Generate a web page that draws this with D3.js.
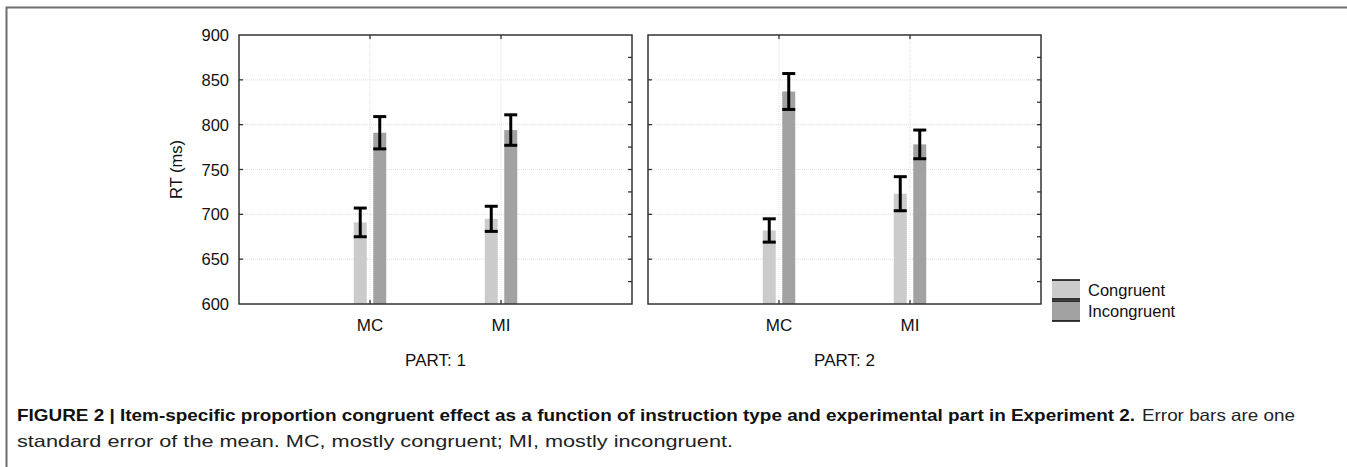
<!DOCTYPE html>
<html>
<head>
<meta charset="utf-8">
<script src="https://cdn.jsdelivr.net/npm/d3@7"></script>
<style>
    body { margin: 0; background: #fff; }
    svg { font-family: "Liberation Sans", Arial, sans-serif; }
</style>
</head>
<body>
<div id="chart"></div>
<script>
// data
const parts = ["PART: 1", "PART: 2"];
const conditions = ["MC", "MI"];
const series = ["Congruent", "Incongruent"];
const yTicks = [600, 650, 700, 750, 800, 850, 900];

// mean RT, [part][condition] per series
const congruentMeans = [[691, 695], [682, 723]];
const incongruentMeans = [[791, 794], [837, 778]];
// standard errors
const congruentSE = [[16, 14], [13, 19]];
const incongruentSE = [[18, 17], [20, 16]];

const colors = { Congruent: "#cbcbcb", Incongruent: "#a2a2a2" };

const width = 1347, height = 467;

const svg = d3.select("#chart").append("svg")
    .attr("width", width)
    .attr("height", height);

// outer figure frame (top + left)
svg.append("path")
    .attr("d", `M6.5,${height} V7.5 H${width}`)
    .attr("fill", "none")
    .attr("stroke", "#6e6e6e")
    .attr("stroke-width", 2);

const panelTop = 35, panelBottom = 304;
const panelW = 393;
const panelLefts = [239, 648];

const y = d3.scaleLinear().domain([600, 900]).range([panelBottom, panelTop]);
const x = d3.scalePoint().domain(conditions).range([0, panelW]).padding(1);
const xs = d3.scaleBand().domain(series).range([-16.25, 16.25]).paddingInner(1 / 3);

parts.forEach((part, pi) => {
    const g = svg.append("g").attr("transform", `translate(${panelLefts[pi]},0)`);

    // dotted grid
    g.selectAll(".hgrid")
        .data(yTicks.slice(1, -1))
        .enter().append("line")
        .attr("x1", 0).attr("x2", panelW)
        .attr("y1", d => y(d)).attr("y2", d => y(d))
        .attr("stroke", "#dedede")
        .attr("stroke-dasharray", "1,1");
    g.selectAll(".vgrid")
        .data(conditions)
        .enter().append("line")
        .attr("x1", d => x(d)).attr("x2", d => x(d))
        .attr("y1", panelTop).attr("y2", panelBottom)
        .attr("stroke", "#dedede")
        .attr("stroke-dasharray", "1,1");

    // bars
    const rows = [];
    conditions.forEach((c, ci) => {
        rows.push({ c, s: "Congruent", v: congruentMeans[pi][ci], se: congruentSE[pi][ci] });
        rows.push({ c, s: "Incongruent", v: incongruentMeans[pi][ci], se: incongruentSE[pi][ci] });
    });

    g.selectAll("rect.bar")
        .data(rows)
        .enter().append("rect")
        .attr("class", "bar")
        .attr("x", d => x(d.c) + xs(d.s))
        .attr("width", xs.bandwidth())
        .attr("y", d => y(d.v))
        .attr("height", d => y(600) - y(d.v))
        .attr("fill", d => colors[d.s]);

    // error bars
    const eb = g.selectAll("g.err")
        .data(rows)
        .enter().append("g")
        .attr("class", "err")
        .attr("stroke", "#000")
        .attr("stroke-width", 3);
    eb.append("line")
        .attr("x1", d => x(d.c) + xs(d.s) + xs.bandwidth() / 2)
        .attr("x2", d => x(d.c) + xs(d.s) + xs.bandwidth() / 2)
        .attr("y1", d => y(d.v + d.se))
        .attr("y2", d => y(d.v - d.se));
    eb.selectAll("line.cap")
        .data(d => [d.v + d.se, d.v - d.se].map(v => ({ ...d, cv: v })))
        .enter().append("line")
        .attr("class", "cap")
        .attr("x1", d => x(d.c) + xs(d.s))
        .attr("x2", d => x(d.c) + xs(d.s) + xs.bandwidth())
        .attr("y1", d => y(d.cv))
        .attr("y2", d => y(d.cv));

    // inward ticks
    const ticks = g.append("g").attr("stroke", "#333").attr("stroke-width", 1.3);
    ticks.selectAll(".lt")
        .data(yTicks.slice(1, -1))
        .enter().append("line")
        .attr("x1", 0).attr("x2", 4)
        .attr("y1", d => y(d)).attr("y2", d => y(d));
    ticks.selectAll(".rt")
        .data(d3.range(625, 900, 25))
        .enter().append("line")
        .attr("x1", panelW - 4).attr("x2", panelW)
        .attr("y1", d => y(d)).attr("y2", d => y(d));
    ticks.selectAll(".tt")
        .data(conditions)
        .enter().append("line")
        .attr("x1", d => x(d)).attr("x2", d => x(d))
        .attr("y1", panelTop).attr("y2", panelTop + 4);
    ticks.selectAll(".bt")
        .data(conditions)
        .enter().append("line")
        .attr("x1", d => x(d)).attr("x2", d => x(d))
        .attr("y1", panelBottom - 4).attr("y2", panelBottom);

    // panel frame
    g.append("rect")
        .attr("x", 0).attr("y", panelTop)
        .attr("width", panelW).attr("height", panelBottom - panelTop)
        .attr("fill", "none")
        .attr("stroke", "#333")
        .attr("stroke-width", 1.5);

    // category labels
    g.selectAll("text.cat")
        .data(conditions)
        .enter().append("text")
        .attr("x", d => x(d))
        .attr("y", 331)
        .attr("text-anchor", "middle")
        .attr("font-size", 17)
        .attr("fill", "#111")
        .text(d => d);

    g.append("text")
        .attr("x", panelW / 2)
        .attr("y", 366)
        .attr("text-anchor", "middle")
        .attr("font-size", 17)
        .attr("fill", "#111")
        .text(part);
});

// y axis labels
svg.append("g")
    .selectAll("text")
    .data(yTicks)
    .enter().append("text")
    .attr("x", 229)
    .attr("y", d => y(d) + 6)
    .attr("text-anchor", "end")
    .attr("font-size", 16.5)
    .attr("fill", "#111")
    .text(d => d);

svg.append("text")
    .attr("transform", `translate(182,${(panelTop + panelBottom) / 2}) rotate(-90)`)
    .attr("text-anchor", "middle")
    .attr("font-size", 16.5)
    .attr("fill", "#111")
    .text("RT (ms)");

// legend
const legend = svg.append("g").attr("transform", "translate(1052,280)");
const swH = 20;
legend.selectAll("rect")
    .data(series)
    .enter().append("rect")
    .attr("x", 0).attr("y", (d, i) => i * (swH + 1))
    .attr("width", 28).attr("height", swH)
    .attr("fill", d => colors[d]);
legend.selectAll("line")
    .data([0, swH - 1, swH + 1, 2 * swH + 1])
    .enter().append("line")
    .attr("x1", 0).attr("x2", 28)
    .attr("y1", d => d).attr("y2", d => d)
    .attr("stroke", "#000")
    .attr("stroke-width", 1.5);
legend.selectAll("text")
    .data(series)
    .enter().append("text")
    .attr("x", 36)
    .attr("y", (d, i) => 16 + i * 21)
    .attr("font-size", 16.5)
    .attr("fill", "#111")
    .text(d => d);

// caption
const captionBold = "FIGURE 2 | Item-specific proportion congruent effect as a function of instruction type and experimental part in Experiment 2.";
const captionRest = "Error bars are one";
const captionLine2 = "standard error of the mean. MC, mostly congruent; MI, mostly incongruent.";

svg.append("text")
    .attr("x", 17).attr("y", 421)
    .attr("font-size", 16.5)
    .attr("font-weight", "bold")
    .attr("fill", "#111")
    .attr("textLength", 1118)
    .attr("lengthAdjust", "spacingAndGlyphs")
    .text(captionBold);
svg.append("text")
    .attr("x", 1142).attr("y", 421)
    .attr("font-size", 16.5)
    .attr("fill", "#222")
    .attr("textLength", 153)
    .attr("lengthAdjust", "spacingAndGlyphs")
    .text(captionRest);
svg.append("text")
    .attr("x", 17).attr("y", 447)
    .attr("font-size", 16.5)
    .attr("fill", "#222")
    .attr("textLength", 716)
    .attr("lengthAdjust", "spacingAndGlyphs")
    .text(captionLine2);
</script>
</body>
</html>
